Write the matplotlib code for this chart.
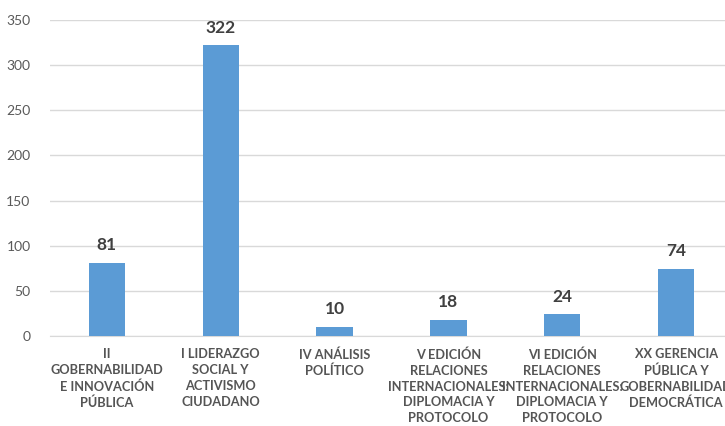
import matplotlib
matplotlib.use("Agg")
import matplotlib.pyplot as plt

categories = [
    "II\nGOBERNABILIDAD\nE INNOVACIÓN\nPÚBLICA",
    "I LIDERAZGO\nSOCIAL Y\nACTIVISMO\nCIUDADANO",
    "IV ANÁLISIS\nPOLÍTICO",
    "V EDICIÓN\nRELACIONES\nINTERNACIONALES:\nDIPLOMACIA Y\nPROTOCOLO",
    "VI EDICIÓN\nRELACIONES\nINTERNACIONALES:\nDIPLOMACIA Y\nPROTOCOLO",
    "XX GERENCIA\nPÚBLICA Y\nGOBERNABILIDAD\nDEMOCRÁTICA",
]
values = [81, 322, 10, 18, 24, 74]
yticks = [0, 50, 100, 150, 200, 250, 300, 350]

plt.rcParams['font.family'] = ['Lato', 'DejaVu Sans']

fig = plt.figure(figsize=(7.25, 4.26), dpi=100)
ax = fig.add_axes([50/725, 1-336/426, 683/725, (336-20)/426])

x = list(range(len(categories)))
ax.bar(x, values, width=0.32, color="#5b9bd5", zorder=3)
for xi, v in zip(x, values):
    ax.annotate(str(v), (xi, v), xytext=(0, 7), textcoords="offset points",
                ha="center", va="bottom", fontsize=12.5, fontweight="bold",
                color="#404040")

ax.set_xlim(-0.5, 5.5)
ax.set_ylim(0, 350)
ax.set_yticks(yticks)
ax.yaxis.grid(True, color="#d9d9d9", linewidth=1, zorder=0)
for s in ["top", "right", "left"]:
    ax.spines[s].set_visible(False)
ax.spines["bottom"].set_color("#d9d9d9")
ax.tick_params(axis="y", length=0, pad=14, labelsize=10, labelcolor="#595959")
ax.tick_params(axis="x", length=0, pad=9)
ax.set_xticks(x)
ax.set_xticklabels(categories, fontsize=9.2, fontweight="bold", color="#555555",
                   linespacing=1.38)

fig.savefig("out.png", dpi=100)
